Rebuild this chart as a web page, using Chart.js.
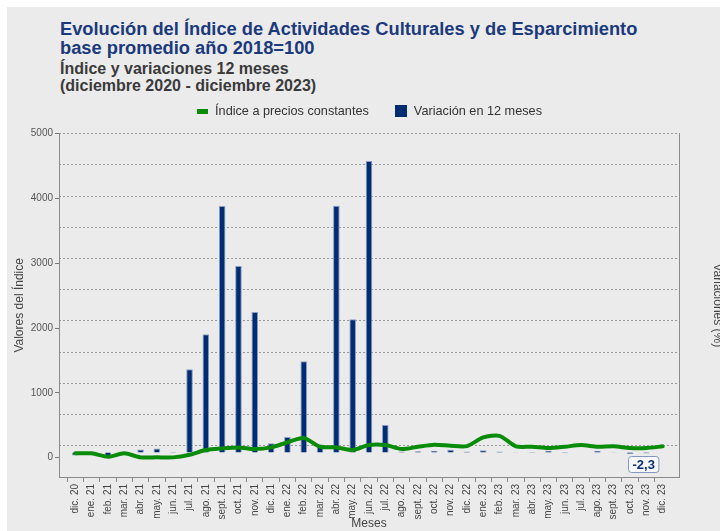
<!DOCTYPE html>
<html>
<head>
<meta charset="utf-8">
<script src="https://cdn.jsdelivr.net/npm/chart.js@4.4.1/dist/chart.umd.min.js"></script>
<style>
  html, body { margin: 0; padding: 0; background: #fff; }
  #wrap { position: relative; width: 720px; height: 531px; overflow: hidden; }
  #panel { position: absolute; left: 7px; top: 7px; right: 0; bottom: 0; background: #ebebeb; }
  .t { position: absolute; left: 60px; font-family: "Liberation Sans", Arial, sans-serif; font-weight: bold; white-space: nowrap; }
  #title { top: 19px; color: #1b3a7c; font-size: 18.3px; line-height: 19px; }
  #sub { top: 60px; color: #3a3a3a; font-size: 16px; line-height: 17px; }
  canvas { position: absolute; left: 0; top: 0; }
</style>
</head>
<body>
<div id="wrap">
  <div id="panel"></div>
  <div id="title" class="t">Evolución del Índice de Actividades Culturales y de Esparcimiento<br>base promedio año 2018=100</div>
  <div id="sub" class="t">Índice y variaciones 12 meses<br>(diciembre 2020 - diciembre 2023)</div>
  <canvas id="chart" width="720" height="531"></canvas>
</div>
<script>
// --- data ---
const months = ["dic. 20", "ene. 21", "feb. 21", "mar. 21", "abr. 21", "may. 21", "jun. 21",
  "jul. 21", "ago. 21", "sept. 21", "oct. 21", "nov. 21", "dic. 21", "ene. 22", "feb. 22",
  "mar. 22", "abr. 22", "may. 22", "jun. 22", "jul. 22", "ago. 22", "sept. 22", "oct. 22",
  "nov. 22", "dic. 22", "ene. 23", "feb. 23", "mar. 23", "abr. 23", "may. 23", "jun. 23",
  "jul. 23", "ago. 23", "sept. 23", "oct. 23", "nov. 23", "dic. 23"];

// Índice a precios constantes (left axis)
const indexValues = [65, 65, 12, 65, 3, 3, 3, 43, 116, 142, 157, 131, 157, 235, 301,
  167, 157, 116, 193, 193, 131, 167, 198, 182, 177, 312, 336, 173, 167, 147, 167,
  193, 167, 173, 147, 147, 173];

// Variación en 12 meses, % (right axis)
const variation = [-50, -45, -55, 8, 43, 59, -10, 1284, 1824, 3804, 2878, 2168, 142, 239, 1407,
  120, 3809, 2055, 4498, 424, 13, 18, 26, 39, 13, 33, 12, 4, 6, 27, -13,
  0, 27, 4, -26, -19, -2.3];

const leftTicks = [0, 1000, 2000, 3000, 4000, 5000];
const rightTicks = [0, 1000, 2000, 3000, 4000];

const GREEN = "#0a8c0a";
const NAVY = "#002d72";
const FONT = "'Liberation Sans', Arial, sans-serif";

// one empty slot each side so the first/last month sit a full step from the axes
const labels = ["", ...months, ""];
const pad = arr => [null, ...arr, null];

function marker(w, h, color) {
  const c = document.createElement("canvas");
  c.width = w; c.height = h;
  const g = c.getContext("2d");
  g.fillStyle = color;
  g.fillRect(0, 0, w, h);
  return c;
}
const lineMarker = marker(11, 5, GREEN);
const barMarker = marker(12, 12, NAVY);

// boxed value label under the last bar
const lastValueLabel = {
  id: "lastValueLabel",
  afterDatasetsDraw(chart) {
    const meta = chart.getDatasetMeta(1);
    const bar = meta.data[variation.length];
    if (!bar) return;
    const ctx = chart.ctx;
    const zero = chart.scales.y2.getPixelForValue(0);
    const text = String(variation[variation.length - 1]).replace(".", ",");
    ctx.save();
    ctx.font = "bold 13px " + FONT;
    const w = ctx.measureText(text).width + 8;
    const h = 16;
    const x = Math.round(bar.x - 4 - w);
    const y = Math.round(zero + 4);
    ctx.beginPath();
    ctx.roundRect(x + 0.5, y + 0.5, w, h, 3);
    ctx.fillStyle = "#f7f8fb";
    ctx.fill();
    ctx.strokeStyle = "#8596bf";
    ctx.lineWidth = 1;
    ctx.stroke();
    ctx.fillStyle = "#0d2f73";
    ctx.textAlign = "center";
    ctx.textBaseline = "middle";
    ctx.fillText(text, x + 0.5 + w / 2, y + 0.5 + h / 2 + 0.5);
    ctx.restore();
  }
};

const ctx = document.getElementById("chart").getContext("2d");
new Chart(ctx, {
  type: "bar",
  data: {
    labels: labels,
    datasets: [
      {
        type: "line",
        label: "Índice a precios constantes",
        data: pad(indexValues),
        yAxisID: "y",
        borderColor: GREEN,
        backgroundColor: GREEN,
        borderWidth: 4,
        tension: 0.25,
        pointRadius: 0,
        borderJoinStyle: "round",
        borderCapStyle: "round"
      },
      {
        type: "bar",
        label: "Variación en 12 meses",
        data: pad(variation),
        yAxisID: "y2",
        backgroundColor: NAVY,
        borderColor: "#8a9cc4",
        borderWidth: 1,
        barPercentage: 0.45,
        categoryPercentage: 0.9
      }
    ]
  },
  options: {
    responsive: false,
    animation: false,
    devicePixelRatio: 1,
    layout: { padding: { top: 79, left: 0, right: 0, bottom: 0 } },
    plugins: {
      legend: {
        position: "top",
        fullSize: false,
        labels: {
          usePointStyle: true,
          padding: 26,
          color: "#333",
          font: { family: FONT, size: 12.7 },
          generateLabels: chart => chart.data.datasets.map((ds, i) => ({
            text: ds.label,
            pointStyle: i === 0 ? lineMarker : barMarker,
            fillStyle: ds.backgroundColor,
            strokeStyle: "transparent",
            lineWidth: 0,
            fontColor: "#333",
            datasetIndex: i
          }))
        }
      },
      // empty spacer between the legend and the plot
      subtitle: {
        display: true,
        text: " ",
        weight: 100,
        fullSize: false,
        padding: 0,
        font: { family: FONT, size: 5 }
      },
      tooltip: { enabled: false }
    },
    scales: {
      x: {
        offset: false,
        grid: {
          drawOnChartArea: false,
          tickLength: 5,
          color: "#888",
          tickColor: c => (c.index === 0 || c.index === labels.length - 1) ? "transparent" : "#888"
        },
        border: { display: true, color: "#8a8a8a" },
        ticks: {
          autoSkip: false,
          maxRotation: 90,
          minRotation: 90,
          padding: 2,
          color: "#444",
          font: { family: FONT, size: 10 }
        },
        title: {
          display: true,
          text: "Meses",
          color: "#444",
          font: { family: FONT, size: 12 },
          padding: { top: 0, bottom: 0 }
        },
        afterFit: s => { s.height = 54; }
      },
      y: {
        position: "left",
        min: -300,
        max: 5000,
        afterBuildTicks: s => { s.ticks = leftTicks.map(v => ({ value: v })); },
        grid: { drawOnChartArea: false, tickLength: 4, color: "#777" },
        border: { display: true, color: "#8a8a8a" },
        ticks: { padding: 2, color: "#555", font: { family: FONT, size: 10 }, callback: v => String(v) },
        title: {
          display: true,
          text: "Valores del Índice",
          color: "#444",
          font: { family: FONT, size: 12 },
          padding: { top: 12, bottom: 0 }
        },
        afterFit: s => { s.width = 59; }
      },
      y2: {
        position: "right",
        min: -380,
        max: 4920,
        ticks: {
          stepSize: 500,
          includeBounds: false,
          padding: 3,
          color: "#555",
          font: { family: FONT, size: 10 },
          callback: v => rightTicks.includes(v) ? String(v) : ""
        },
        grid: {
          drawOnChartArea: true,
          tickLength: 4,
          color: "#9a9a9a",
          tickColor: c => (c.tick && rightTicks.includes(c.tick.value)) ? "#777" : "transparent"
        },
        border: { display: true, color: "#8a8a8a", dash: [2, 2] },
        title: {
          display: true,
          text: "Variaciones (%)",
          color: "#444",
          font: { family: FONT, size: 12 },
          padding: { top: -5, bottom: 0 }
        },
        afterFit: s => { s.width = 41; }
      }
    }
  },
  plugins: [lastValueLabel]
});
</script>
</body>
</html>
